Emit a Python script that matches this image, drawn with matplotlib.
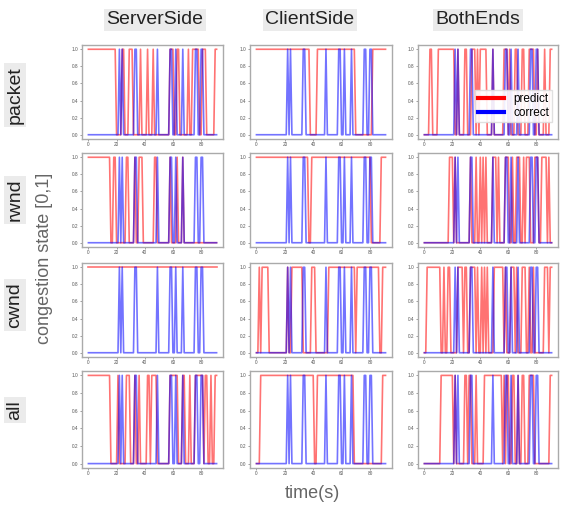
import numpy as np
import matplotlib
matplotlib.use("Agg")
import matplotlib.pyplot as plt

plt.rcParams['font.family'] = ['Liberation Sans', 'DejaVu Sans']

# time axis (seconds), one sample per second
T_END = 91
COLS = ["ServerSide", "ClientSide", "BothEnds"]
ROWS = ["packet", "rwnd", "cwnd", "all"]

# ground truth: runs (start, end inclusive) where congestion state == 1
CORRECT = [(22, 22), (24, 24), (33, 34), (49, 49), (58, 59), (62, 62),
           (67, 67), (76, 77), (80, 81)]

PRED_PACKET_SERVER = [(0, 19), (24, 25), (29, 31), (37, 37), (42, 42), (46, 46),
                      (58, 60), (63, 64), (71, 71), (74, 78), (81, 83), (90, 91)]
PRED_PACKET_CLIENT = [(0, 37), (43, 69), (82, 91)]
PRED_PACKET_BOTH = [(4, 5), (10, 21), (24, 24), (29, 30), (34, 36), (38, 38),
                    (40, 44), (49, 49), (57, 59), (61, 61), (65, 66), (70, 71),
                    (75, 78), (81, 81), (86, 86), (90, 91)]
PRED_RWND_SERVER = [(0, 15), (18, 19), (27, 28), (33, 33), (36, 38), (47, 48),
                    (58, 58), (63, 63), (67, 67)]
PRED_RWND_CLIENT = [(0, 36), (39, 80), (88, 91)]
PRED_RWND_BOTH = [(18, 20), (22, 22), (33, 33), (37, 37), (40, 40), (42, 42),
                  (44, 44), (49, 51), (53, 53), (58, 60), (63, 63), (66, 68),
                  (71, 71), (73, 75), (79, 81), (84, 87), (89, 89)]
PRED_CWND_SERVER = [(0, 91)]
PRED_CWND_CLIENT = [(2, 2), (4, 8), (22, 22), (25, 32), (39, 41), (51, 51),
                    (52, 69), (71, 86), (89, 91)]
PRED_CWND_BOTH = [(2, 11), (14, 14), (17, 18), (24, 27), (29, 30), (33, 36),
                  (38, 38), (41, 41), (43, 43), (45, 45), (50, 56), (58, 58),
                  (62, 64), (66, 66), (70, 72), (75, 75), (78, 78), (86, 88),
                  (90, 91)]
PRED_ALL_SERVER = [(0, 15), (21, 21), (27, 29), (33, 33), (36, 36), (42, 43),
                   (45, 48), (58, 63), (67, 68), (72, 72), (76, 81), (83, 84),
                   (87, 87), (90, 91)]
PRED_ALL_CLIENT = [(3, 40), (43, 68), (89, 91)]
PRED_ALL_BOTH = [(12, 20), (22, 22), (29, 30), (32, 33), (37, 37), (43, 54),
                 (55, 55), (57, 57), (59, 60), (63, 64), (67, 67), (70, 71),
                 (75, 78), (90, 91)]

PRED = [[PRED_PACKET_SERVER, PRED_PACKET_CLIENT, PRED_PACKET_BOTH],
        [PRED_RWND_SERVER, PRED_RWND_CLIENT, PRED_RWND_BOTH],
        [PRED_CWND_SERVER, PRED_CWND_CLIENT, PRED_CWND_BOTH],
        [PRED_ALL_SERVER, PRED_ALL_CLIENT, PRED_ALL_BOTH]]


def to_series(runs):
    y = np.zeros(T_END + 1)
    for a, b in runs:
        y[a:b + 1] = 1.0
    return y


W, H = 561, 508
fig = plt.figure(figsize=(W / 100, H / 100), dpi=100)

col_x = [(82, 223), (250, 392), (418, 558)]
row_y = [(45, 139), (153, 247), (263, 357), (371, 468)]

t = np.arange(T_END + 1)
y_true = to_series(CORRECT)
grey_box = dict(facecolor="#ebebeb", edgecolor="none", pad=2)

for r, (y0, y1) in enumerate(row_y):
    for c, (x0, x1) in enumerate(col_x):
        ax = fig.add_axes([x0 / W, 1 - y1 / H, (x1 - x0) / W, (y1 - y0) / H])
        ax.plot(t, to_series(PRED[r][c]), color="red", lw=1.2, alpha=0.55, label="predict")
        ax.plot(t, y_true, color="blue", lw=1.2, alpha=0.55, label="correct")
        ax.set_xticks([0, 20, 40, 60, 80])
        ax.set_yticks([0.0, 0.2, 0.4, 0.6, 0.8, 1.0])
        ax.tick_params(labelsize=3.4, length=1.5, width=0.4, colors="#555555", pad=1)
        for s in ax.spines.values():
            s.set_color("#aaaaaa")
            s.set_linewidth(1.0)
        if r == 0 and c == 2:
            leg = ax.legend(loc="lower right", fontsize=8.5, handlelength=2.2,
                            borderpad=0.25, labelspacing=0.15, handletextpad=0.8,
                            framealpha=0.9, edgecolor="#dddddd", fancybox=False,
                            bbox_to_anchor=(1.0, 0.12))
            for ln in leg.get_lines():
                ln.set_linewidth(3)
                ln.set_alpha(1)

# column titles
for name, xc in zip(COLS, [155, 310, 478]):
    fig.text(xc / W, 1 - 20 / H, name, fontsize=14, ha="center", va="center",
             color="#222222", bbox=grey_box)

# row labels
for name, yc in zip(ROWS, [95, 200, 305, 410]):
    fig.text(15 / W, 1 - yc / H, name, fontsize=14, ha="center", va="center",
             rotation=90, color="#222222", bbox=grey_box)

fig.text(45 / W, 1 - 258 / H, "congestion state [0,1]", fontsize=13, ha="center",
         va="center", rotation=90, color="#666666")
fig.text(312 / W, 1 - 494 / H, "time(s)", fontsize=13, ha="center", va="center",
         color="#666666")

fig.savefig("out.png", dpi=100)
